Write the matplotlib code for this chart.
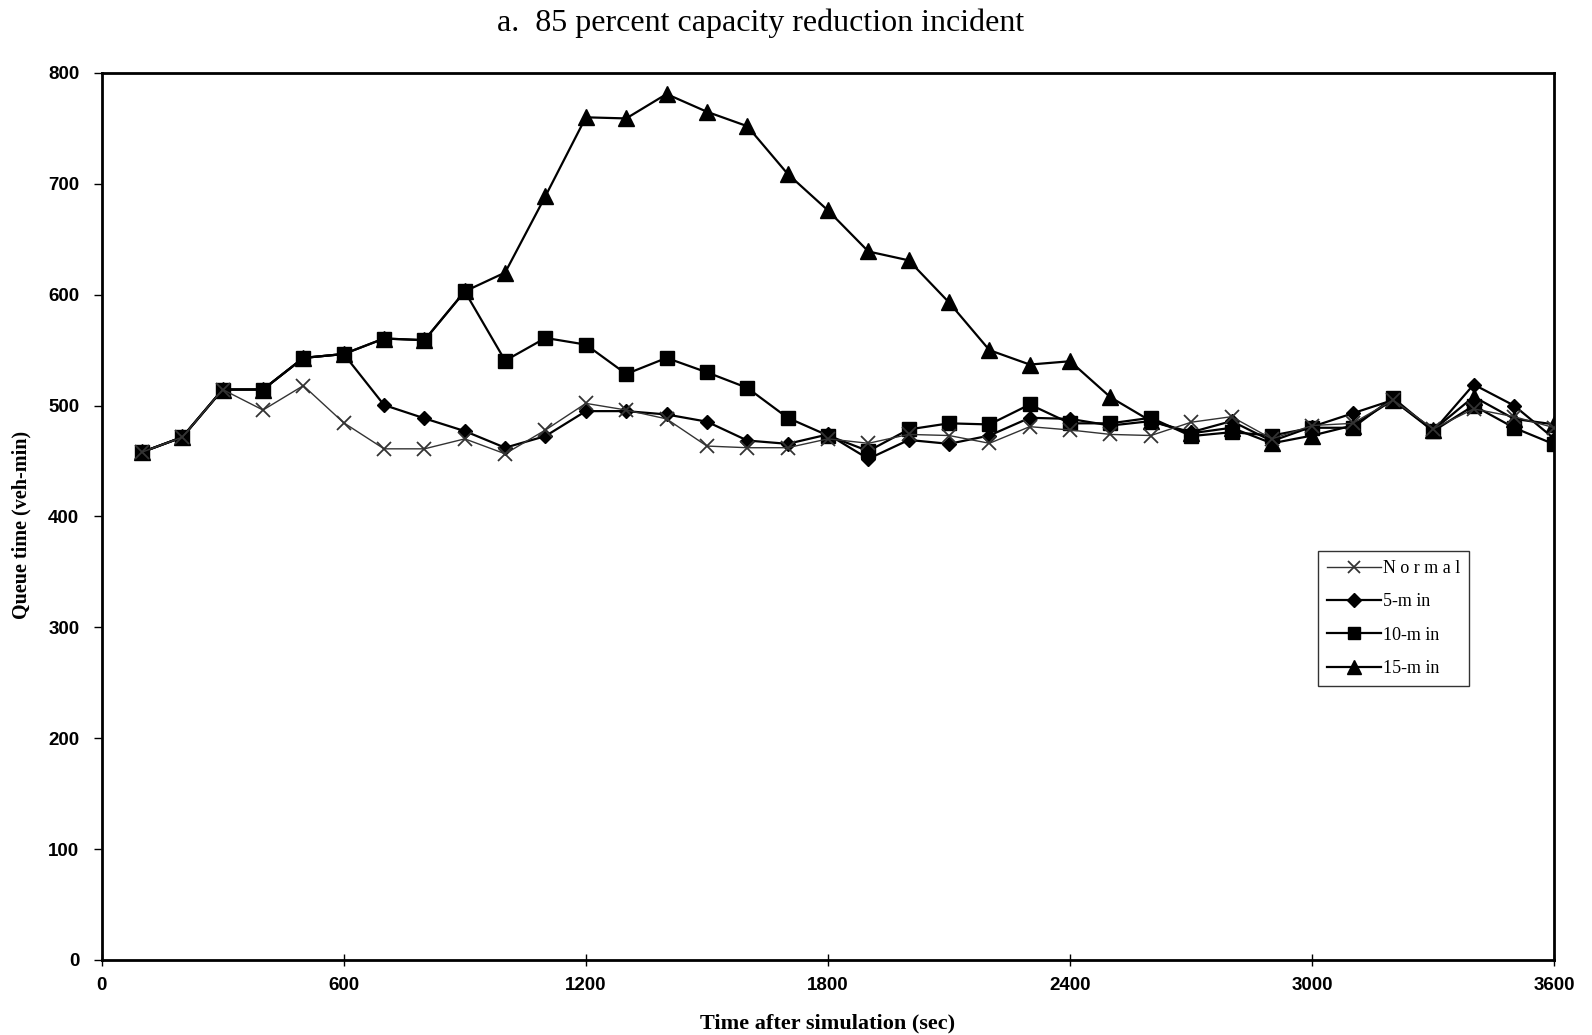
import numpy as np
from matplotlib import use
use('Agg')
import matplotlib.pyplot as plt

# time after simulation (sec)
t = list(range(100, 3700, 100))

normal = [458, 471.5, 514.5, 496, 518, 484.5, 461, 461, 470, 456.5,
          478, 502, 496, 488, 463.5, 462, 462, 470, 466, 474,
          473, 466, 481, 478, 474, 473, 485, 490, 470, 482,
          484, 505, 479, 497, 490, 480]
min5 = [458, 471.5, 514.5, 514.5, 543, 546.5, 500.5, 488.5, 477, 462,
        472.5, 495, 495, 492, 485.5, 468.5, 465.5, 474, 452, 469,
        465.5, 473, 489, 488, 482, 486, 476, 486, 468, 481,
        493, 505, 477, 519, 500, 470]
min10 = [458, 471.5, 514.5, 514.5, 543, 546.5, 560.5, 559, 603, 540.5,
         561, 555, 528.5, 543, 530, 516, 489, 473, 459, 478.5,
         484, 483, 501, 484, 484, 489, 472.5, 476, 473, 480,
         480, 507, 477, 500, 480, 465]
min15 = [458, 471.5, 514.5, 514.5, 543, 546.5, 560.5, 559, 603, 620,
         689, 760, 759, 781, 765, 752, 709, 676, 639, 631,
         593, 550, 537, 540, 507.5, 486, 475, 480, 466, 473,
         482, 505, 478, 508, 488, 483]

fig = plt.figure(figsize=(15.92, 10.35), dpi=100)
ax = fig.add_axes([0.0638, 0.0725, 0.9126, 0.857])

ax.plot(t, min15, color='black', lw=1.6, marker='^', ms=11, zorder=2, label='15-min')
ax.plot(t, min10, color='black', lw=1.6, marker='s', ms=10, zorder=3, label='10-min')
ax.plot(t, min5, color='black', lw=1.6, marker='D', ms=7.5, zorder=4, label='5-min')
ax.plot(t, normal, color='#333333', lw=1.0, marker='x', ms=10, mew=1.3, zorder=5, label='Normal')

ax.set_xlim(0, 3600)
ax.set_ylim(0, 800)
ax.set_xticks(range(0, 3601, 600))
ax.set_yticks(range(0, 801, 100))
for s in ax.spines.values():
    s.set_linewidth(2)
ax.tick_params(axis='y', direction='out', length=6, width=1, pad=10)
ax.tick_params(axis='x', direction='inout', length=8, width=1, pad=8)
for lab in ax.get_xticklabels() + ax.get_yticklabels():
    lab.set_family('Liberation Sans')
    lab.set_fontweight('bold')
    lab.set_fontsize(13.5)

ax.set_xlabel('Time after simulation (sec)', family='Liberation Serif', fontweight='bold',
              fontsize=16, labelpad=14)
ax.set_ylabel('Queue time (veh-min)', family='Liberation Serif', fontweight='bold',
              fontsize=14.5)
ax.yaxis.set_label_coords(-0.048, 0.49)

fig.text(0.478, 0.978, 'a.  85 percent capacity reduction incident', family='Liberation Serif',
         fontsize=23, ha='center', va='center')

h, l = ax.get_legend_handles_labels()
leg = ax.legend(h[::-1], ['N o r m a l', '5-m in', '10-m in', '15-m in'],
                loc='upper left', bbox_to_anchor=(0.837, 0.461), borderaxespad=0,
                frameon=True, fancybox=False, edgecolor='black', handlelength=3.0,
                handletextpad=0.1, borderpad=0.5, labelspacing=0.9,
                prop={'family': 'Liberation Serif', 'size': 13})
leg.get_frame().set_linewidth(1.0)
for lh in leg.legend_handles:
    lh.set_markersize(lh.get_markersize() * 0.9)

fig.savefig('out.png', dpi=100)
